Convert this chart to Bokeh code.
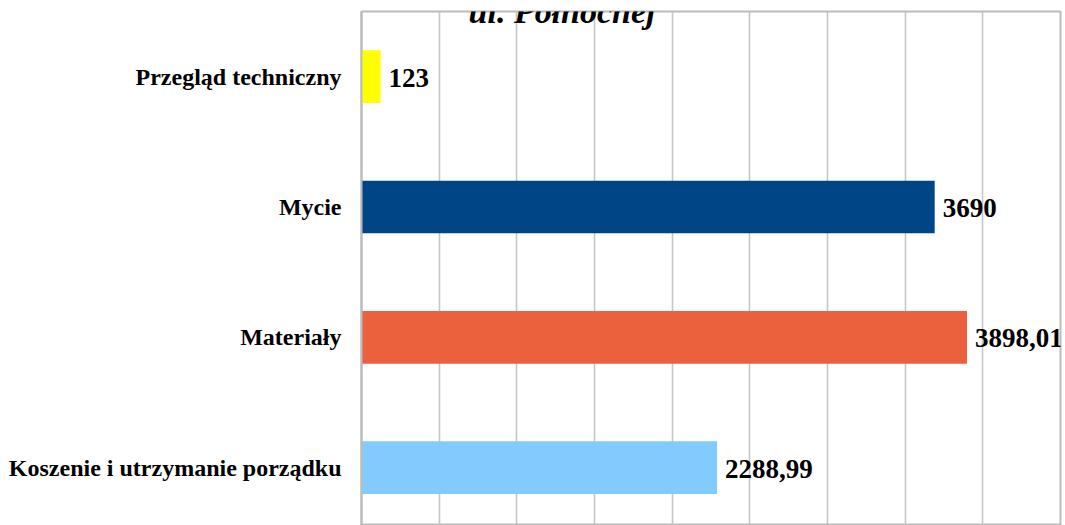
from bokeh.plotting import figure
from bokeh.models import Range1d, FixedTicker, ColumnDataSource, LabelSet, Label
from bokeh.embed import file_html
from bokeh.resources import INLINE

# ---- data ----
categories = ["Koszenie i utrzymanie porządku", "Materiały", "Mycie", "Przegląd techniczny"]
values = [2288.99, 3898.01, 3690, 123]
value_labels = ["2288,99", "3898,01", "3690", "123"]
colors = ["#83CAFF", "#EB613D", "#004586", "#FFFF00"]
grid_ticks = [0, 500, 1000, 1500, 2000, 2500, 3000, 3500, 4000, 4500]
title_text = "ul. Północnej"

positions = list(range(len(categories)))
W, H = 1065, 525
top_border = 11
band_px = 130.33
frame_h = H - top_border
y_top = len(categories) - 0.5
y_bottom = y_top - frame_h / band_px

p = figure(width=W, height=H, output_backend="svg", toolbar_location=None,
           x_range=Range1d(0, 4500), y_range=Range1d(y_bottom, y_top),
           x_axis_location=None, min_border_left=361, min_border_right=5,
           min_border_top=top_border, min_border_bottom=0)
p.background_fill_color = "white"
p.border_fill_color = "white"
p.outline_line_color = "#bbbbbb"
p.outline_line_width = 2

p.xgrid.ticker = FixedTicker(ticks=grid_ticks)
p.xgrid.grid_line_color = "#c6c6c6"
p.xgrid.grid_line_width = 1.6
p.ygrid.visible = False

src = ColumnDataSource(dict(y=positions, v=values, c=colors, lab=value_labels))
p.hbar(y="y", left=0, right="v", height=0.404, fill_color="c", line_color=None, source=src)

ax = p.yaxis[0]
ax.ticker = FixedTicker(ticks=positions)
ax.major_label_overrides = {i: c for i, c in zip(positions, categories)}
ax.major_label_text_font = "Liberation Serif"
ax.major_label_text_font_style = "bold"
ax.major_label_text_font_size = "24px"
ax.major_label_text_color = "black"
ax.major_label_standoff = 20
ax.major_tick_out = 0
ax.major_tick_in = 0
ax.minor_tick_out = 0
ax.minor_tick_in = 0
ax.axis_line_color = "#bbbbbb"
ax.axis_line_width = 2

labels = LabelSet(x="v", y="y", text="lab", source=src, x_offset=8, y_offset=-1,
                  text_font="Liberation Serif", text_font_style="bold",
                  text_font_size="27px", text_baseline="middle", text_color="black")
p.add_layout(labels)

p.add_layout(Label(x=1291, y=y_top, text=title_text, text_align="center",
                   text_baseline="alphabetic", text_font="Liberation Serif",
                   text_font_style="bold italic", text_font_size="34px", text_color="black"))

open("out.html", "w").write(file_html(p, INLINE))
